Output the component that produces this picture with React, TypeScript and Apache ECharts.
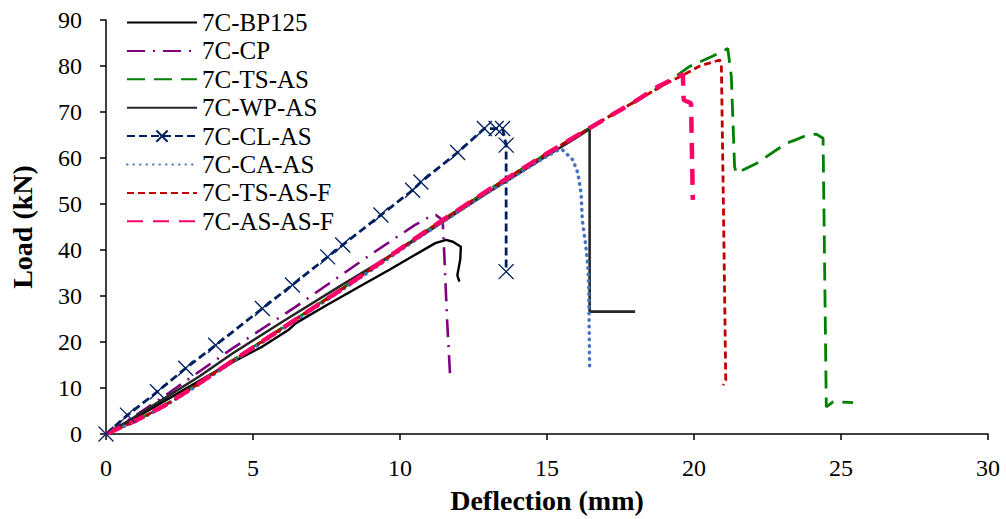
import React, { useEffect, useRef } from "react";
import * as echarts from "echarts";

const X_TICKS = [0, 5, 10, 15, 20, 25, 30];
const Y_TICKS = [0, 10, 20, 30, 40, 50, 60, 70, 80, 90];

const BP125 = [[0,0],[1,3.5],[2,7.2],[3,10.9],[4,14.6],[5.32,19.0],[6.2,22.6],[6.46,24.1],[7.5,28.0],[8.61,32.0],[9.64,35.7],[10.5,38.9],[11.2,41.5],[11.57,42.2],[11.8,41.8],[12.07,40.7],[12.05,38],[11.95,34.5],[12.02,33.1]];
const CP = [[0,0],[1,4.0],[2,8.3],[3,12.8],[4.3,18.6],[6.46,27.7],[9.07,39.3],[10.5,45.4],[11.0,47.2],[11.22,47.6],[11.45,46.5],[11.5,40],[11.6,25],[11.7,13.2]];
const TS_AS = [[0,0],[1,2.8],[2,6.3],[3,10.4],[4,14.7],[5,18.9],[6,23.1],[7,27.3],[8,31.5],[9,35.8],[10,40.2],[11,44.6],[12,48.8],[13,53.0],[14,57.0],[15,61.0],[16,64.8],[17,68.6],[18,72.3],[19,76.0],[19.85,79.9],[20.59,82.0],[21.15,83.8],[21.27,77.7],[21.38,58.1],[21.44,56.7],[22.12,58.8],[23.14,63.2],[23.48,64.0],[23.82,64.9],[24.16,65.2],[24.39,64.3],[24.5,5.9],[24.73,7.0],[25.41,6.8]];
const WP_AS = [[0,0],[0.9,3.4],[2,7.8],[3.17,12.5],[4.3,17.5],[6,24.4],[8,32.3],[9.64,38.6],[11,44.2],[12,48.4],[13,52.5],[14,56.5],[15,60.5],[16,64.4],[16.45,66.3],[16.45,26.6],[18.0,26.6]];
const CL_AS = [[0,0],[0.73,4.1],[1.75,9.2],[2.71,14.3],[3.73,19.3],[5.32,27.3],[6.34,32.4],[7.54,38.5],[8.05,41.1],[9.35,47.6],[10.43,53.0],[10.71,54.8],[11.96,61.2],[12.87,66.4],[13.27,66.4],[13.49,66.4],[13.61,62.8],[13.61,35.3]];
const CA_AS = [[0,0],[1,2.7],[2,6.1],[3,10.1],[4,14.4],[5,18.6],[6,22.8],[7,27.0],[8,31.2],[9,35.5],[10,39.9],[11,44.2],[12,48.4],[13,52.6],[14,56.5],[15,60.4],[15.42,61.9],[15.54,61.7],[15.88,59.6],[16.05,56.7],[16.16,52.3],[16.2,46.5],[16.31,41.5],[16.39,36.4],[16.42,32],[16.45,13.9]];
const TS_AS_F = [[0,0],[1,2.8],[2,6.2],[3,10.3],[4,14.6],[5,18.8],[6,23.0],[7,27.2],[8,31.4],[9,35.8],[10,40.2],[11,44.6],[12,48.8],[13,53.0],[14,57.0],[15,61.0],[16,64.8],[17,68.6],[18,72.3],[19,76.0],[19.5,77.6],[20.2,80.0],[20.87,81.3],[20.93,80.6],[21.0,50],[21.08,11.7],[20.99,10.6]];
const AS_AS_F = [[0,0],[1,2.9],[2,6.2],[3,10.3],[4,14.6],[5,18.8],[6,23.0],[7,27.2],[8,31.4],[9,35.8],[10,40.2],[11,44.6],[12,48.8],[13,53.0],[14,57.0],[15,61.0],[16,64.8],[17,68.6],[18,72.3],[18.8,75.6],[19.62,78.2],[19.65,72.6],[19.9,71.9],[19.96,50.9]];

const NAMES = ["7C-BP125","7C-CP","7C-TS-AS","7C-WP-AS","7C-CL-AS","7C-CA-AS","7C-TS-AS-F","7C-AS-AS-F"];

export default function App() {
  const ref = useRef<HTMLDivElement>(null);
  useEffect(() => {
    if (!ref.current) return;
    const chart = echarts.init(ref.current, undefined, { renderer: "svg" });
    const font = "'Liberation Serif', 'Times New Roman', serif";
    const line = (name: string, data: number[][], color: string, width: number, type: any, cap: any = "butt", extra: any = {}) => ({
      name,
      type: "line",
      data,
      symbol: "none",
      showSymbol: false,
      itemStyle: { color },
      lineStyle: { color, width, type, cap },
      ...extra,
    });
    chart.setOption({
      animation: false,
      grid: { left: 106, right: 18, top: 20, bottom: 85 },
      legend: {
        orient: "vertical",
        left: 121,
        top: 5,
        itemWidth: 70,
        itemHeight: 14,
        itemGap: 3.4,
        textStyle: { fontFamily: font, fontSize: 25, color: "#000" },
        data: NAMES.map((n) => (n === "7C-CL-AS" ? { name: n } : { name: n, itemStyle: { opacity: 0 } })),
      },
      xAxis: {
        type: "value",
        min: 0,
        max: 30,
        interval: 5,
        name: "Deflection (mm)",
        nameLocation: "middle",
        nameGap: 52,
        nameTextStyle: { fontFamily: font, fontSize: 28, fontWeight: "bold", color: "#000" },
        axisLine: { lineStyle: { color: "#000", width: 1.5 } },
        axisTick: { show: true, length: 6, lineStyle: { color: "#000", width: 1.5 } },
        axisLabel: { fontFamily: font, fontSize: 24, color: "#000", margin: 22 },
        splitLine: { show: false },
      },
      yAxis: {
        type: "value",
        min: 0,
        max: 90,
        interval: 10,
        name: "Load (kN)",
        nameLocation: "middle",
        nameGap: 70,
        nameTextStyle: { fontFamily: font, fontSize: 28, fontWeight: "bold", color: "#000" },
        axisLine: { show: true, lineStyle: { color: "#000", width: 1.5 } },
        axisTick: { show: true, length: 6, lineStyle: { color: "#000", width: 1.5 } },
        axisLabel: { fontFamily: font, fontSize: 24, color: "#000", margin: 24 },
        splitLine: { show: false },
      },
      series: [
        line(NAMES[0], BP125, "#000000", 2.4, "solid"),
        line(NAMES[1], CP, "#7F007F", 2.6, [18, 8, 2, 8]),
        line(NAMES[2], TS_AS, "#008000", 2.8, [18, 9]),
        line(NAMES[3], WP_AS, "#262626", 2.6, "solid"),
        line(NAMES[4], CL_AS, "#002060", 2.8, [8, 4], "butt", {
          symbol: "path://M0 0L10 10M10 0L0 10",
          showSymbol: true,
          symbolSize: 15,
          itemStyle: { color: "#002060", borderColor: "#002060", borderWidth: 1.3 },
        }),
        line(NAMES[5], CA_AS, "#4472C4", 3.5, [0.5, 6], "round"),
        line(NAMES[6], TS_AS_F, "#C00000", 2.8, [7, 4]),
        line(NAMES[7], AS_AS_F, "#FF0066", 4.5, [16, 10]),
      ],
    });
    return () => chart.dispose();
  }, []);
  return <div ref={ref} style={{ position: "absolute", left: 0, top: 0, width: 1006, height: 519 }} />;
}
